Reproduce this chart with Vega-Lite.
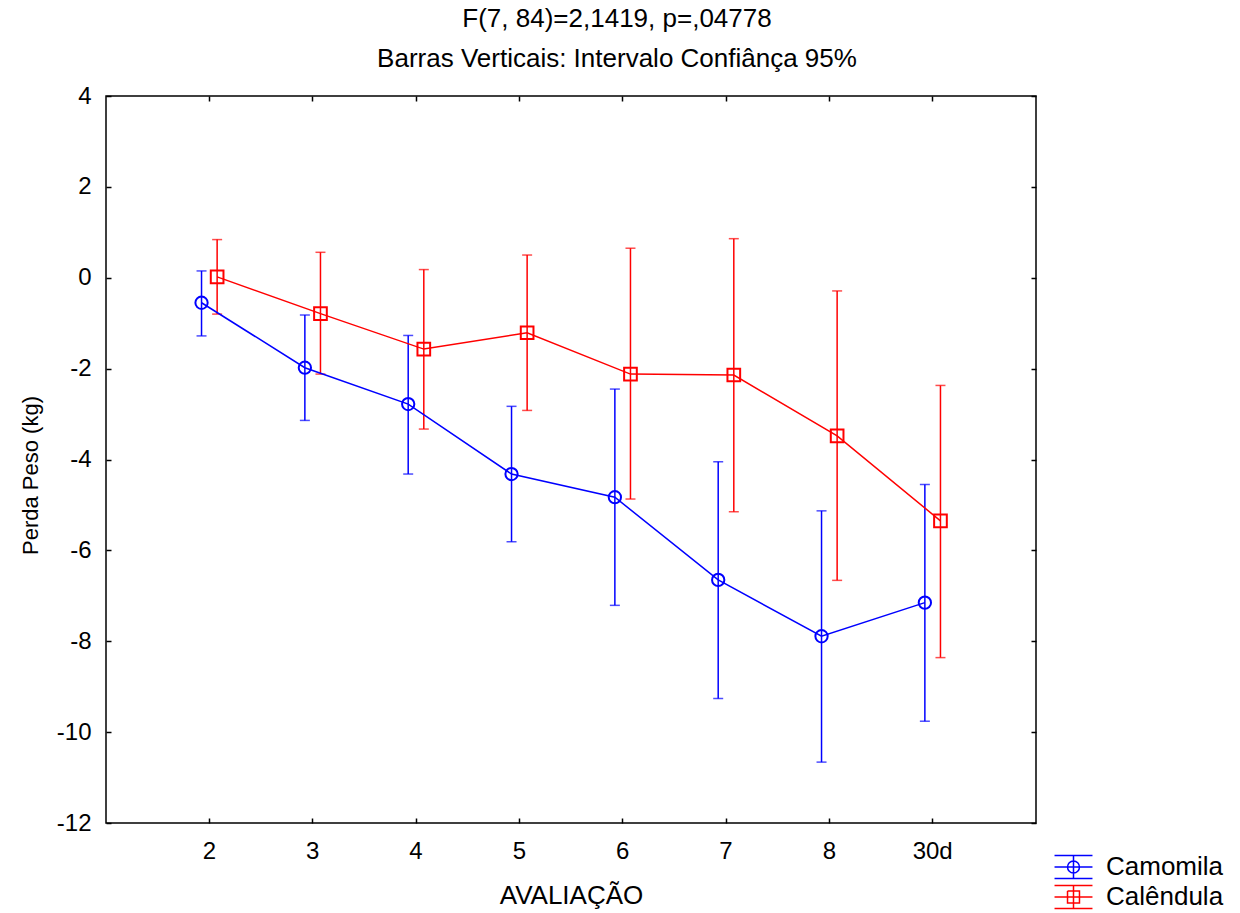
{
  "$schema": "https://vega.github.io/schema/vega-lite/v6.json",
  "autosize": {"type": "none"},
  "width": 930,
  "height": 727,
  "padding": {"left": 106, "top": 96, "right": 204, "bottom": 90},
  "background": "white",
  "title": {
    "text": ["F(7, 84)=2,1419, p=,04778", "Barras Verticais: Intervalo Confiânça 95%"],
    "fontSize": 26,
    "font": "Liberation Sans",
    "fontWeight": "normal",
    "lineHeight": 40,
    "offset": 12,
    "dx": 46,
    "anchor": "middle",
    "color": "#000"
  },
  "config": {
    "view": {"stroke": "#000", "strokeWidth": 1.5},
    "font": "Liberation Sans",
    "axis": {
      "labelFont": "Liberation Sans",
      "titleFont": "Liberation Sans",
      "labelFontSize": 24,
      "titleFontSize": 26,
      "titleFontWeight": "normal",
      "labelColor": "#000",
      "titleColor": "#000",
      "tickColor": "#000",
      "tickWidth": 1.5,
      "domain": false,
      "grid": false
    }
  },
  "data": {
    "values": [
      {"aval": "2", "grupo": "Camomila", "media": -0.55, "lo": -1.28, "hi": 0.15},
      {"aval": "3", "grupo": "Camomila", "media": -1.98, "lo": -3.14, "hi": -0.82},
      {"aval": "4", "grupo": "Camomila", "media": -2.78, "lo": -4.32, "hi": -1.27},
      {"aval": "5", "grupo": "Camomila", "media": -4.32, "lo": -5.81, "hi": -2.83},
      {"aval": "6", "grupo": "Camomila", "media": -4.83, "lo": -7.21, "hi": -2.45},
      {"aval": "7", "grupo": "Camomila", "media": -6.65, "lo": -9.26, "hi": -4.05},
      {"aval": "8", "grupo": "Camomila", "media": -7.89, "lo": -10.66, "hi": -5.13},
      {"aval": "30d", "grupo": "Camomila", "media": -7.15, "lo": -9.76, "hi": -4.55},
      {"aval": "2", "grupo": "Calêndula", "media": 0.02, "lo": -0.8, "hi": 0.84},
      {"aval": "3", "grupo": "Calêndula", "media": -0.79, "lo": -2.12, "hi": 0.56},
      {"aval": "4", "grupo": "Calêndula", "media": -1.57, "lo": -3.33, "hi": 0.18},
      {"aval": "5", "grupo": "Calêndula", "media": -1.21, "lo": -2.92, "hi": 0.5},
      {"aval": "6", "grupo": "Calêndula", "media": -2.12, "lo": -4.87, "hi": 0.65},
      {"aval": "7", "grupo": "Calêndula", "media": -2.14, "lo": -5.15, "hi": 0.86},
      {"aval": "8", "grupo": "Calêndula", "media": -3.48, "lo": -6.66, "hi": -0.29},
      {"aval": "30d", "grupo": "Calêndula", "media": -5.35, "lo": -8.36, "hi": -2.37}
    ]
  },
  "resolve": {"axis": {"x": "independent", "y": "independent"}},
  "layer": [
    {
      "transform": [{"filter": "datum.grupo === 'nenhum'"}],
      "mark": {"type": "point", "filled": false, "strokeWidth": 1.5, "opacity": 1},
      "encoding": {
        "x": {"field": "aval", "type": "ordinal", "sort": ["2", "3", "4", "5", "6", "7", "8", "30d"], "axis": null},
        "xOffset": {"field": "grupo", "type": "nominal"},
        "y": {"field": "media", "type": "quantitative", "axis": null},
        "color": {
          "field": "grupo", "type": "nominal",
          "scale": {"domain": ["Camomila", "Calêndula"], "range": ["#0000FF", "#FF0000"]},
          "legend": {
            "title": null, "orient": "none", "legendX": 954.5, "legendY": 758,
            "labelFontSize": 26, "labelFont": "Liberation Sans", "labelColor": "#000",
            "labelOffset": 19.5, "symbolSize": 529, "symbolStrokeWidth": 1.5,
            "symbolFillColor": "transparent",
            "rowPadding": 0, "padding": 0, "labelLimit": 300
          }
        },
        "shape": {
          "field": "grupo", "type": "nominal",
          "scale": {
            "domain": ["Camomila", "Calêndula"],
            "range": [
              "M-1.65,-1H1.65M-1.65,0H1.65M-1.65,1H1.65M0,-1V1M0.52,0A0.52,0.52,0,1,1,-0.52,0A0.52,0.52,0,1,1,0.52,0A0.52,0.52,0,1,0,-0.52,0A0.52,0.52,0,1,0,0.52,0",
              "M-1.65,-1H1.65M-1.65,0H1.65M-1.65,1H1.65M0,-1V1M-0.52,-0.52H0.52V0.52H-0.52V-0.52V0.52H0.52V-0.52H-0.52"
            ]
          },
          "legend": {
            "title": null, "orient": "none", "legendX": 954.5, "legendY": 758,
            "labelFontSize": 26, "labelFont": "Liberation Sans", "labelColor": "#000",
            "labelOffset": 19.5, "symbolSize": 529, "symbolStrokeWidth": 1.5,
            "symbolFillColor": "transparent",
            "rowPadding": 0, "padding": 0, "labelLimit": 300
          }
        }
      }
    },
    {
      "mark": {"type": "rule", "strokeWidth": 1.5},
      "encoding": {
        "x": {
          "field": "aval", "type": "ordinal",
          "sort": ["2", "3", "4", "5", "6", "7", "8", "30d"],
          "scale": {"type": "band", "paddingInner": 0.698, "paddingOuter": 0.849},
          "axis": {"orient": "bottom", "title": "AVALIAÇÃO", "labelAngle": 0, "tickSize": -5, "labelPadding": 21, "titlePadding": 19, "bandPosition": 0.5}
        },
        "xOffset": {
          "field": "grupo", "type": "nominal",
          "scale": {"domain": ["Camomila", "Calêndula"], "paddingInner": 0, "paddingOuter": 0}
        },
        "y": {
          "field": "lo", "type": "quantitative",
          "scale": {"domain": [-12, 4], "nice": false, "zero": false},
          "axis": {"orient": "left", "title": "Perda Peso (kg)", "titleFontSize": 22, "titleY": 379, "values": [-12, -10, -8, -6, -4, -2, 0, 2, 4], "labelExpr": "'' + datum.value", "tickSize": -5, "labelPadding": 20, "titlePadding": 14}
        },
        "y2": {"field": "hi"},
        "color": {"field": "grupo", "type": "nominal", "legend": null}
      }
    },
    {
      "mark": {"type": "tick", "size": 10, "thickness": 1.5},
      "encoding": {
        "x": {
          "field": "aval", "type": "ordinal",
          "sort": ["2", "3", "4", "5", "6", "7", "8", "30d"],
          "axis": {"orient": "top", "title": null, "labels": false, "tickSize": -5, "bandPosition": 0.5}
        },
        "xOffset": {"field": "grupo", "type": "nominal"},
        "y": {
          "field": "lo", "type": "quantitative",
          "axis": {"orient": "right", "title": null, "labels": false, "values": [-12, -10, -8, -6, -4, -2, 0, 2, 4], "tickSize": -5}
        },
        "fill": {
          "field": "grupo", "type": "nominal",
          "scale": {"domain": ["Camomila", "Calêndula"], "range": ["#0000FF", "#FF0000"]},
          "legend": null
        }
      }
    },
    {
      "mark": {"type": "tick", "size": 10, "thickness": 1.5},
      "encoding": {
        "x": {"field": "aval", "type": "ordinal", "sort": ["2", "3", "4", "5", "6", "7", "8", "30d"], "axis": null},
        "xOffset": {"field": "grupo", "type": "nominal"},
        "y": {"field": "hi", "type": "quantitative", "axis": null},
        "fill": {"field": "grupo", "type": "nominal", "legend": null}
      }
    },
    {
      "mark": {"type": "line", "strokeWidth": 1.5},
      "encoding": {
        "x": {"field": "aval", "type": "ordinal", "sort": ["2", "3", "4", "5", "6", "7", "8", "30d"], "axis": null},
        "xOffset": {"field": "grupo", "type": "nominal"},
        "y": {"field": "media", "type": "quantitative", "axis": null},
        "color": {"field": "grupo", "type": "nominal", "legend": null}
      }
    },
    {
      "transform": [{"filter": "datum.grupo === 'Camomila'"}],
      "mark": {"type": "point", "shape": "circle", "filled": false, "fill": "transparent", "size": 151, "strokeWidth": 2, "opacity": 1},
      "encoding": {
        "x": {"field": "aval", "type": "ordinal", "sort": ["2", "3", "4", "5", "6", "7", "8", "30d"], "axis": null},
        "xOffset": {"field": "grupo", "type": "nominal"},
        "y": {"field": "media", "type": "quantitative", "axis": null},
        "color": {"field": "grupo", "type": "nominal", "legend": null}
      }
    },
    {
      "transform": [{"filter": "datum.grupo === 'Calêndula'"}],
      "mark": {"type": "point", "shape": "square", "filled": false, "fill": "transparent", "size": 161, "strokeWidth": 2, "opacity": 1},
      "encoding": {
        "x": {"field": "aval", "type": "ordinal", "sort": ["2", "3", "4", "5", "6", "7", "8", "30d"], "axis": null},
        "xOffset": {"field": "grupo", "type": "nominal"},
        "y": {"field": "media", "type": "quantitative", "axis": null},
        "color": {"field": "grupo", "type": "nominal", "legend": null}
      }
    }
  ]
}
